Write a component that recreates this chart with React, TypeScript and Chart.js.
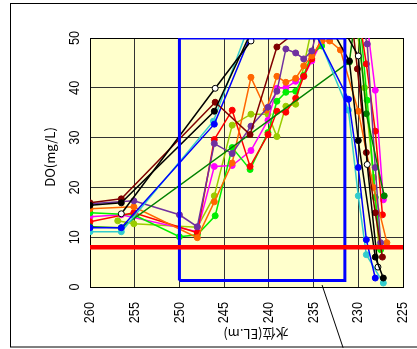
import React, { useEffect, useRef } from "react";
import { Chart, registerables } from "chart.js";

Chart.register(...registerables);

// Axis ticks
const xTicks = [260, 255, 250, 245, 240, 235, 230, 225];
const yTicks = [0, 10, 20, 30, 40, 50];
const xTitle = "水位(EL.m)";
const yTitle = "DO(mg/L)";

// Reference lines / box
const limitX = [260, 225];
const limitY = [8, 8];
const boxX = [250, 231.5, 231.5, 250, 250];
const boxY = [1.3, 1.3, 50, 50, 1.3];
const calloutX = [234.05, 231.7];
const calloutY = [0.4, -12.2];

// Series (water level, DO)
const blackX = [260, 256.5, 246.1, 241, 234, 231, 230, 228.1, 227.2];
const blackY = [16.4, 16.9, 35.3, 55, 55, 45.4, 29.4, 6.0, 1.8];

const openX = [256.5, 246.0, 242.0, 240, 233, 230, 229, 227.8];
const openY = [14.7, 39.9, 49.4, 56, 56, 46.4, 24.6, 4.0];

const maroonX = [260, 256.5, 246.0, 242.1, 239.1, 235, 231, 230.1, 229.1, 228.1, 227.3];
const maroonY = [16.9, 17.7, 37.1, 30.6, 48.2, 54, 58, 43.8, 27.0, 14.9, 6.0];

const blueX = [260, 256.5, 246.1, 241, 236.5, 231.1, 230, 229.1, 228.1];
const blueY = [11.9, 11.9, 32.7, 55, 57, 37.7, 24.0, 9.5, 1.8];

const cyanX = [260, 256.5, 246.2, 241.5, 236.3, 231.1, 230, 229.1, 227.2];
const cyanY = [11.1, 11.1, 33.3, 56, 58, 35.5, 18.3, 6.5, 0.8];

const dgreenX = [260, 256.5, 231, 230.2, 229.1, 227.1];
const dgreenY = [12.1, 11.9, 45.2, 56, 34.8, 18.3];

const purpleX = [260, 255.1, 250, 248, 246.1, 244.1, 242, 240.1, 239.1, 238.1, 237, 236.1, 235.2, 234, 230, 229, 228.1, 227.5];
const purpleY = [16.7, 17.3, 14.5, 12.1, 28.8, 26.8, 32.3, 36.1, 39.3, 47.8, 47.0, 45.8, 47.4, 56, 56, 48.8, 24.0, 8.9];

const orangeX = [260, 255.1, 248, 246.1, 244.1, 242, 240.3, 239.1, 238.1, 237, 236.1, 235.2, 234.1, 233.2, 232, 230, 228.3, 226.8];
const orangeY = [15.7, 16.1, 9.9, 17.1, 24.9, 42.1, 35.5, 42.3, 41.1, 41.9, 44.4, 46.4, 49.4, 49.4, 47.6, 35.3, 20, 8.9];

const redX = [260, 255.1, 248, 246.1, 244.1, 242.1, 240.1, 239.1, 238.1, 237, 236.1, 235.2, 234.1, 233, 230, 229.1, 228.1, 227.3];
const redY = [13.1, 14.9, 10.9, 29.6, 35.5, 24.2, 30.6, 35.3, 35.1, 37.9, 42.3, 45.8, 49.8, 55, 55, 44.8, 31.3, 14.5];

const limeX = [260, 255.1, 250, 248, 246, 244.1, 242.1, 240.1, 239.1, 238.1, 237, 236.1, 235.2, 234.1, 233, 230, 229, 228.1, 227.5];
const limeY = [14.9, 14.5, 10.1, 10.5, 14.3, 28.0, 23.6, 31.0, 37.3, 39.1, 39.3, 42.5, 46.8, 48.4, 56, 57, 37.5, 18.0, 7.5];

const magentaX = [260, 256.5, 248, 246.1, 244.1, 242, 240.1, 239.1, 238.1, 237, 236.1, 235.2, 234.1, 233, 229.5, 228.1, 227.2];
const magentaY = [14.1, 14.5, 11.1, 24.2, 24.4, 27.4, 33.5, 39.9, 40.0, 41.3, 42.3, 45.4, 49.2, 57, 60, 39.5, 17.5];

const ygreenX = [256.9, 255.1, 248, 246.1, 244.1, 242, 240.1, 239.1, 238.1, 237, 235.2, 234.5, 230.5, 229.3, 228.3, 227.7];
const ygreenY = [13.3, 12.7, 12.0, 18.3, 32.5, 34.7, 34.7, 30.2, 36.3, 36.7, 52, 56, 57, 40, 22, 8];

const pts = (xs: number[], ys: number[]) => xs.map((x, i) => ({ x, y: ys[i] }));

const series = (label: string, xs: number[], ys: number[], color: string, fill?: string) => ({
  label,
  data: pts(xs, ys),
  borderColor: color,
  backgroundColor: fill || color,
  pointBackgroundColor: fill || color,
  pointBorderColor: color,
  pointBorderWidth: 1,
  pointRadius: 3,
  borderWidth: 1.5,
  tension: 0,
});

const decor = {
  id: "decor",
  beforeDraw(chart: any) {
    const { ctx, chartArea: a } = chart;
    ctx.save();
    ctx.fillStyle = "#ffffff";
    ctx.fillRect(0, 0, chart.width, chart.height);
    ctx.strokeStyle = "#000";
    ctx.lineWidth = 1;
    ctx.strokeRect(10.5, 3.5, chart.width + 10, 343.5);
    ctx.fillStyle = "#FFFFCC";
    ctx.fillRect(a.left, a.top, a.right - a.left, a.bottom - a.top);
    ctx.restore();
  },
  beforeDatasetsDraw(chart: any) {
    const { ctx, chartArea: a } = chart;
    ctx.save();
    ctx.strokeStyle = "#000";
    ctx.lineWidth = 1;
    ctx.strokeRect(a.left + 0.5, a.top + 0.5, a.right - a.left, a.bottom - a.top);
    ctx.restore();
  },
  afterDraw(chart: any) {
    const { ctx } = chart;
    const xs = chart.scales.x;
    const ys = chart.scales.y;
    ctx.save();
    ctx.fillStyle = "#000";
    ctx.font = "15px 'Liberation Sans', Arial, sans-serif";
    ctx.textBaseline = "middle";
    for (const v of yTicks) {
      const py = ys.getPixelForValue(v);
      ctx.save();
      ctx.translate(75, py);
      ctx.rotate(-Math.PI / 2);
      ctx.scale(0.85, 1);
      ctx.textAlign = "center";
      ctx.fillText(String(v), 0, 0);
      ctx.restore();
    }
    for (const v of xTicks) {
      const px = xs.getPixelForValue(v);
      ctx.save();
      ctx.translate(px, 302);
      ctx.rotate(-Math.PI / 2);
      ctx.scale(0.85, 1);
      ctx.textAlign = "right";
      ctx.fillText(String(v), 0, 0);
      ctx.restore();
    }
    ctx.font = "13px 'Noto Sans CJK JP', sans-serif";
    ctx.save();
    ctx.translate(50, 157);
    ctx.rotate(-Math.PI / 2);
    ctx.textAlign = "center";
    ctx.fillText(yTitle, 0, 0);
    ctx.restore();
    ctx.save();
    ctx.translate(256, 334);
    ctx.rotate(Math.PI);
    ctx.textAlign = "center";
    ctx.fillText(xTitle, 0, 0);
    ctx.restore();
    // callout leader
    ctx.strokeStyle = "#000";
    ctx.lineWidth = 1;
    ctx.beginPath();
    ctx.moveTo(xs.getPixelForValue(calloutX[0]), ys.getPixelForValue(calloutY[0]));
    ctx.lineTo(xs.getPixelForValue(calloutX[1]), ys.getPixelForValue(calloutY[1]));
    ctx.stroke();
    ctx.restore();
  },
};

export default function App() {
  const ref = useRef<HTMLCanvasElement>(null);
  useEffect(() => {
    if (!ref.current) return;
    const chart = new Chart(ref.current, {
      type: "line",
      data: {
        datasets: [
          {
            label: "limit",
            data: pts(limitX, limitY),
            borderColor: "#FF0000",
            borderWidth: 4.5,
            pointRadius: 0,
          },
          {
            label: "box",
            data: pts(boxX, boxY),
            borderColor: "#0000FF",
            borderWidth: 3,
            pointRadius: 0,
          },
          series("black", blackX, blackY, "#000000"),
          series("open", openX, openY, "#000000", "#ffffff"),
          series("maroon", maroonX, maroonY, "#800000"),
          series("blue", blueX, blueY, "#0000FF"),
          series("cyan", cyanX, cyanY, "#33CCCC"),
          series("dgreen", dgreenX, dgreenY, "#008000"),
          series("purple", purpleX, purpleY, "#7030A0"),
          series("orange", orangeX, orangeY, "#FF6600"),
          series("red", redX, redY, "#FF0000"),
          series("lime", limeX, limeY, "#00EE00"),
          series("magenta", magentaX, magentaY, "#FF00FF"),
          series("ygreen", ygreenX, ygreenY, "#99CC00"),
        ] as any,
      },
      options: {
        animation: false,
        responsive: false,
        devicePixelRatio: 1,
        layout: { padding: { left: 90, top: 38, right: 14, bottom: 62 } },
        plugins: { legend: { display: false }, tooltip: { enabled: false } },
        scales: {
          x: {
            type: "linear",
            reverse: true,
            min: 225,
            max: 260,
            ticks: { display: false, stepSize: 5 },
            grid: { color: "#333333", lineWidth: 1, drawTicks: false },
            border: { display: false },
            afterFit: (s: any) => { s.height = 0; },
          },
          y: {
            type: "linear",
            min: 0,
            max: 50,
            ticks: { display: false, stepSize: 10 },
            grid: { color: "#333333", lineWidth: 1, drawTicks: false },
            border: { display: false },
            afterFit: (s: any) => { s.width = 0; },
          },
        },
      } as any,
      plugins: [decor],
    });
    return () => chart.destroy();
  }, []);
  return (
    <div style={{ position: "fixed", left: 0, top: 0, width: 417, height: 349 }}>
      <canvas ref={ref} width={417} height={349} style={{ display: "block" }} />
    </div>
  );
}
